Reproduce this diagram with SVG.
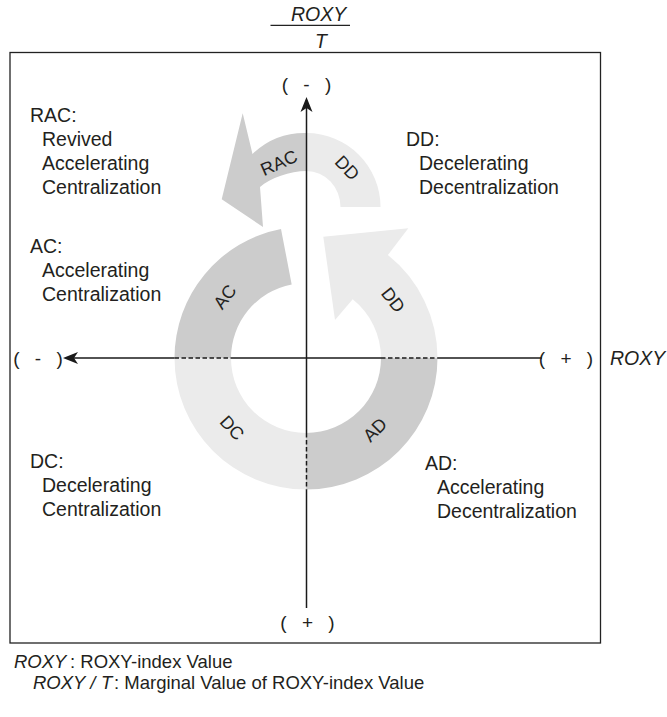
<svg xmlns="http://www.w3.org/2000/svg" width="667" height="717" viewBox="0 0 667 717">
<style>
text{font-family:"Liberation Sans",Arial,Helvetica,sans-serif;fill:#231f20}
.d{font-size:19.5px}
.i{font-style:italic}
.lab{font-size:18px;text-anchor:middle;dominant-baseline:central}
.dark{fill:#cccccc}
.light{fill:#ebebeb}
.ax{stroke:#1a1a1a;stroke-width:1.5;fill:none}
.dash{stroke:#1a1a1a;stroke-width:1.5;fill:none;stroke-dasharray:4.5 2.5}
.pm{font-size:19px;text-anchor:middle;word-spacing:10px}
.lg{font-size:18.5px}
</style>
<defs>
<marker id="arr" markerUnits="userSpaceOnUse" markerWidth="16" markerHeight="14" viewBox="0 -7 16 14" refX="13" refY="0" orient="auto-start-reverse">
<path d="M16,0 L1,-6 L5,0 L1,6 Z" fill="#1a1a1a"/>
</marker>
</defs>
<rect width="667" height="717" fill="#ffffff"/>

<g id="frame">
<rect x="10" y="52.5" width="590.5" height="590.5" fill="none" stroke="#222" stroke-width="1.3"/>
</g>

<g id="title">
<text class="d i" x="291" y="21">ROXY</text>
<line x1="270.5" y1="25.3" x2="350" y2="25.3" stroke="#222" stroke-width="1.3"/>
<text class="d i" x="315" y="48">T</text>
</g>

<g id="seg-AC">
<path class="dark" d="M174.5,358 A131.5,131.5 0 0,1 281,229 L291.7,284.4 A75,75 0 0,0 231,358 Z"/>
<text class="lab" transform="translate(225,297) rotate(-53)">AC</text>
</g>
<g id="seg-DC">
<path class="light" d="M174.5,358 A131.5,131.5 0 0,0 306,489.5 L306,433 A75,75 0 0,1 231,358 Z"/>
<text class="lab" transform="translate(232,428) rotate(47)">DC</text>
</g>
<g id="seg-AD">
<path class="dark" d="M306,489.5 A131.5,131.5 0 0,0 437.5,358 L381,358 A75,75 0 0,1 306,433 Z"/>
<text class="lab" transform="translate(375,430) rotate(-45)">AD</text>
</g>
<g id="seg-DD-lower">
<path class="light" d="M437.5,358 A131.5,131.5 0 0,0 387.9,255.1 L408.3,228.3 L323.3,236.7 L335,320 L352.7,299.3 A75,75 0 0,1 381,358 Z"/>
<text class="lab" transform="translate(393,300) rotate(52)">DD</text>
</g>
<g id="seg-DD-upper">
<path class="light" d="M306.5,133 A74,74 0 0,1 380.5,207 L340.5,207 A34,36 0 0,0 306.5,171 Z"/>
<text class="lab" transform="translate(347,168) rotate(46)">DD</text>
</g>
<g id="seg-RAC">
<path class="dark" d="M306.5,133 A75,75 0 0,0 252.5,154 L242.7,113.3 L221.7,199.3 L263,227 L260,187 C270,178 290,171 306.5,171 Z"/>
<text class="lab" transform="translate(279,163) rotate(-24)">RAC</text>
</g>

<g id="connectors">
<line class="ax" x1="306.5" y1="100" x2="306.5" y2="433" marker-start="url(#arr)"/>
<line class="dash" x1="306.5" y1="433" x2="306.5" y2="489.5"/>
<line class="ax" x1="306.5" y1="489.5" x2="306.5" y2="608"/>
<line class="ax" x1="66" y1="358" x2="174.5" y2="358" marker-start="url(#arr)"/>
<line class="dash" x1="174.5" y1="358" x2="231" y2="358"/>
<line class="ax" x1="231" y1="358" x2="381" y2="358"/>
<line class="dash" x1="381" y1="358" x2="437.5" y2="358"/>
<line class="ax" x1="437.5" y1="358" x2="542" y2="358"/>
</g>

<g id="axis-labels">
<text class="pm" x="306.5" y="91">( - )</text>
<text class="pm" x="38" y="365">( - )</text>
<text class="pm" x="566" y="365">( + )</text>
<text class="pm" x="307.5" y="629">( + )</text>
<text class="d i" x="610" y="365">ROXY</text>
</g>

<g id="desc-RAC">
<text class="d" x="30" y="122">RAC:</text>
<text class="d" x="42" y="146">Revived</text>
<text class="d" x="42" y="170">Accelerating</text>
<text class="d" x="42" y="194">Centralization</text>
</g>
<g id="desc-AC">
<text class="d" x="30" y="253">AC:</text>
<text class="d" x="42" y="277">Accelerating</text>
<text class="d" x="42" y="301">Centralization</text>
</g>
<g id="desc-DD">
<text class="d" x="406" y="146">DD:</text>
<text class="d" x="419" y="170">Decelerating</text>
<text class="d" x="419" y="194">Decentralization</text>
</g>
<g id="desc-DC">
<text class="d" x="30" y="468">DC:</text>
<text class="d" x="42" y="492">Decelerating</text>
<text class="d" x="42" y="516">Centralization</text>
</g>
<g id="desc-AD">
<text class="d" x="425" y="470">AD:</text>
<text class="d" x="437" y="494">Accelerating</text>
<text class="d" x="437" y="518">Decentralization</text>
</g>

<g id="legend">
<text class="lg" y="668"><tspan class="i" x="14">ROXY</tspan><tspan x="70">: ROXY-index Value</tspan></text>
<text class="lg" y="689"><tspan class="i" x="33">ROXY /</tspan><tspan class="i" x="101">T</tspan><tspan x="114">: Marginal Value of ROXY-index Value</tspan></text>
</g>
</svg>
